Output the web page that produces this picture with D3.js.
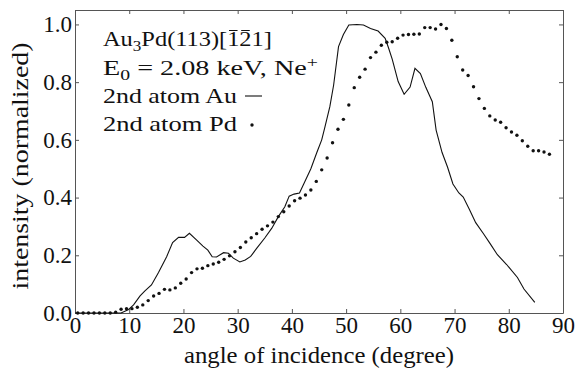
<!DOCTYPE html>
<html>
<head>
<meta charset="utf-8">
<script src="https://cdn.jsdelivr.net/npm/d3@7"></script>
<style>
  body { margin: 0; background: #fff; }
  svg text { font-family: "Liberation Serif", serif; fill: #111; }
</style>
</head>
<body>
<div id="chart"></div>
<script>
// 2nd atom Au (solid line)
const auAngle = [0, 8.5, 9.8, 10.8, 12.0, 12.9, 14.1, 15.4, 16.9, 18.0, 19.1, 20.2, 21.1, 22.3, 23.6,
  24.5, 25.3, 26.1, 27.4, 28.3, 29.2, 30.4, 31.4, 32.4, 33.5, 35.0, 36.3, 37.5, 38.7, 39.5,
  40.4, 41.4, 42.4, 43.5, 44.6, 45.5, 46.1, 47.0, 47.7, 48.6, 49.5, 50.5, 52.0, 53.2, 54.5,
  55.9, 57.2, 57.8, 58.5, 59.6, 60.7, 61.8, 62.7, 63.7, 64.7, 65.9, 66.6, 67.7, 68.7, 69.7,
  70.8, 71.6, 72.7, 73.9, 75.4, 76.5, 77.9, 79.6, 81.6, 82.8, 84.8];
const auIntensity = [0, 0, 0.011, 0.028, 0.059, 0.077, 0.097, 0.14, 0.195, 0.244, 0.262, 0.262, 0.276, 0.255, 0.232,
  0.218, 0.195, 0.194, 0.209, 0.207, 0.19, 0.177, 0.184, 0.196, 0.224, 0.26, 0.294, 0.334, 0.368, 0.405,
  0.412, 0.416, 0.456, 0.5, 0.556, 0.6, 0.645, 0.715, 0.79, 0.923, 0.965, 0.998, 1.0, 0.998, 0.986,
  0.977, 0.952, 0.92, 0.88, 0.802, 0.758, 0.783, 0.848, 0.83, 0.782, 0.732, 0.634, 0.556, 0.506, 0.447,
  0.416, 0.402, 0.36, 0.313, 0.273, 0.242, 0.202, 0.168, 0.123, 0.083, 0.037];

// 2nd atom Pd (dots)
const pdAngle = [0.5, 1.5, 2.5, 3.5, 4.5, 5.5, 6.5, 7.5, 8.5, 9.5, 10.5, 11.5, 12.5, 13.5, 14.5,
  15.5, 16.5, 17.5, 18.5, 19.5, 20.5, 21.5, 22.5, 23.5, 24.5, 25.5, 26.5, 27.5, 28.5, 29.5,
  30.5, 31.5, 32.5, 33.5, 34.5, 35.5, 36.5, 37.5, 38.5, 39.5, 40.5, 41.5, 42.5, 43.5, 44.5,
  45.5, 46.5, 47.5, 48.5, 49.5, 50.5, 51.5, 52.5, 53.5, 54.5, 55.5, 56.5, 57.5, 58.5, 59.5,
  60.5, 61.5, 62.5, 63.5, 64.5, 65.5, 66.5, 67.5, 68.5, 69.5, 70.5, 71.5, 72.5, 73.5, 74.5,
  75.5, 76.5, 77.5, 78.5, 79.5, 80.5, 81.5, 82.5, 83.5, 84.5, 85.5, 86.5, 87.5];
const pdIntensity = [0, 0, 0, 0, 0, 0, 0, 0.003, 0.013, 0.015, 0.015, 0.02, 0.028, 0.043, 0.059,
  0.068, 0.082, 0.08, 0.087, 0.103, 0.118, 0.14, 0.153, 0.155, 0.164, 0.17, 0.176, 0.186, 0.198, 0.212,
  0.227, 0.246, 0.261, 0.275, 0.29, 0.302, 0.315, 0.334, 0.351, 0.371, 0.389, 0.398, 0.409, 0.426, 0.456,
  0.496, 0.537, 0.59, 0.637, 0.671, 0.721, 0.781, 0.817, 0.845, 0.885, 0.904, 0.928, 0.938, 0.94, 0.952,
  0.963, 0.965, 0.966, 0.967, 0.989, 0.989, 0.984, 1.0, 0.986, 0.945, 0.888, 0.842, 0.823, 0.784, 0.743,
  0.709, 0.683, 0.669, 0.661, 0.642, 0.627, 0.616, 0.597, 0.578, 0.562, 0.562, 0.558, 0.55];

const xTicks = [0, 10, 20, 30, 40, 50, 60, 70, 80, 90];
const yTicks = [0.0, 0.2, 0.4, 0.6, 0.8, 1.0];

const width = 575, height = 370;
const margin = { left: 75, right: 12, top: 10, bottom: 57 };
const serif = 'Liberation Serif';

const svg = d3.select('#chart')
  .append('svg')
    .attr('width', width)
    .attr('height', height);

const x = d3.scaleLinear()
  .domain([0, 90])
  .range([margin.left, width - margin.right]);

const y = d3.scaleLinear()
  .domain([0, 1.05])
  .range([height - margin.bottom, margin.top]);

const axisColor = '#555';

function styleAxis(g) {
  g.attr('font-family', serif);
  g.selectAll('.domain').attr('stroke', axisColor).attr('stroke-width', 1);
  g.selectAll('.tick line').attr('stroke', axisColor);
  g.selectAll('text')
    .attr('font-family', serif)
    .attr('font-size', 23)
    .attr('fill', '#111');
}

// bottom / left axes with labels, ticks pointing inward
svg.append('g')
  .attr('transform', 'translate(0,' + y(0) + ')')
  .call(d3.axisBottom(x).tickValues(xTicks).tickSizeInner(-4).tickSizeOuter(0).tickPadding(4).tickFormat(d3.format('d')))
  .call(styleAxis);

svg.append('g')
  .attr('transform', 'translate(' + x(0) + ',0)')
  .call(d3.axisLeft(y).tickValues(yTicks).tickSizeInner(-4).tickSizeOuter(0).tickPadding(3).tickFormat(d3.format('.1f')))
  .call(styleAxis);

// top / right axes, ticks only
svg.append('g')
  .attr('transform', 'translate(0,' + y(1.05) + ')')
  .call(d3.axisTop(x).tickValues(xTicks).tickSizeInner(-4).tickSizeOuter(0).tickFormat(''))
  .call(styleAxis);

svg.append('g')
  .attr('transform', 'translate(' + x(90) + ',0)')
  .call(d3.axisRight(y).tickValues(yTicks).tickSizeInner(-4).tickSizeOuter(0).tickFormat(''))
  .call(styleAxis);

// axis titles
svg.append('text')
  .attr('x', (x(0) + x(90)) / 2)
  .attr('y', 363)
  .attr('text-anchor', 'middle')
  .attr('font-family', serif)
  .attr('font-size', 23)
  .attr('textLength', 270)
  .attr('lengthAdjust', 'spacingAndGlyphs')
  .text('angle of incidence (degree)');

svg.append('text')
  .attr('transform', 'translate(28,166) rotate(-90)')
  .attr('text-anchor', 'middle')
  .attr('font-family', serif)
  .attr('font-size', 24)
  .attr('textLength', 247)
  .attr('lengthAdjust', 'spacingAndGlyphs')
  .text('intensity (normalized)');

// data
const auLine = d3.line()
  .x((d, i) => x(auAngle[i]))
  .y(d => y(d));

svg.append('path')
  .datum(auIntensity)
  .attr('fill', 'none')
  .attr('stroke', '#111')
  .attr('stroke-width', 1.1)
  .attr('d', auLine);

svg.append('g')
  .selectAll('circle')
  .data(pdIntensity)
  .enter()
  .append('circle')
    .attr('cx', (d, i) => x(pdAngle[i]))
    .attr('cy', d => y(d))
    .attr('r', 1.7)
    .attr('fill', '#111');

// legend: each line is stretched to the width it has in the picture
const legendX = 103, legendSize = 20;
const legendBase = [46, 75, 103, 131];
const legendWidth = [169, 215, 134, 134];

function legendLine(i, build) {
  const g = svg.append('g');
  const t = g.append('text')
    .attr('font-family', serif)
    .attr('font-size', legendSize);
  build(t);
  const sx = legendWidth[i] / t.node().getComputedTextLength();
  g.attr('transform', 'translate(' + legendX + ',' + legendBase[i] + ') scale(' + sx + ',1)');
  return { g: g, t: t, sx: sx };
}

const l0 = legendLine(0, t => {
  t.append('tspan').text('Au');
  t.append('tspan').attr('dy', 5).attr('font-size', 14).text('3');
  t.append('tspan').attr('dy', -5).text('Pd(113)[121]');
});
// overbars on the first two Miller indices: the "1" and "2" right after "["
[11, 12].forEach(ci => {
  const box = l0.t.node().getExtentOfChar(ci);
  l0.g.append('line')
    .attr('x1', box.x + 1.5).attr('x2', box.x + box.width - 1.5)
    .attr('y1', -15.5).attr('y2', -15.5)
    .attr('stroke', '#111')
    .attr('stroke-width', 1);
});

legendLine(1, t => {
  t.append('tspan').text('E');
  t.append('tspan').attr('dy', 5).attr('font-size', 14).text('0');
  t.append('tspan').attr('dy', -5).text(' = 2.08 keV, Ne');
  t.append('tspan').attr('dy', -8).attr('font-size', 14).text('+');
});

legendLine(2, t => t.text('2nd atom Au'));
legendLine(3, t => t.text('2nd atom Pd'));

const end2 = legendX + legendWidth[2];
svg.append('line')
  .attr('x1', end2 + 8).attr('x2', end2 + 25)
  .attr('y1', legendBase[2] - 7).attr('y2', legendBase[2] - 7)
  .attr('stroke', '#111')
  .attr('stroke-width', 1.1);

const end3 = legendX + legendWidth[3];
svg.append('circle')
  .attr('cx', end3 + 15)
  .attr('cy', legendBase[3] - 6)
  .attr('r', 1.7)
  .attr('fill', '#111');
</script>
</body>
</html>
